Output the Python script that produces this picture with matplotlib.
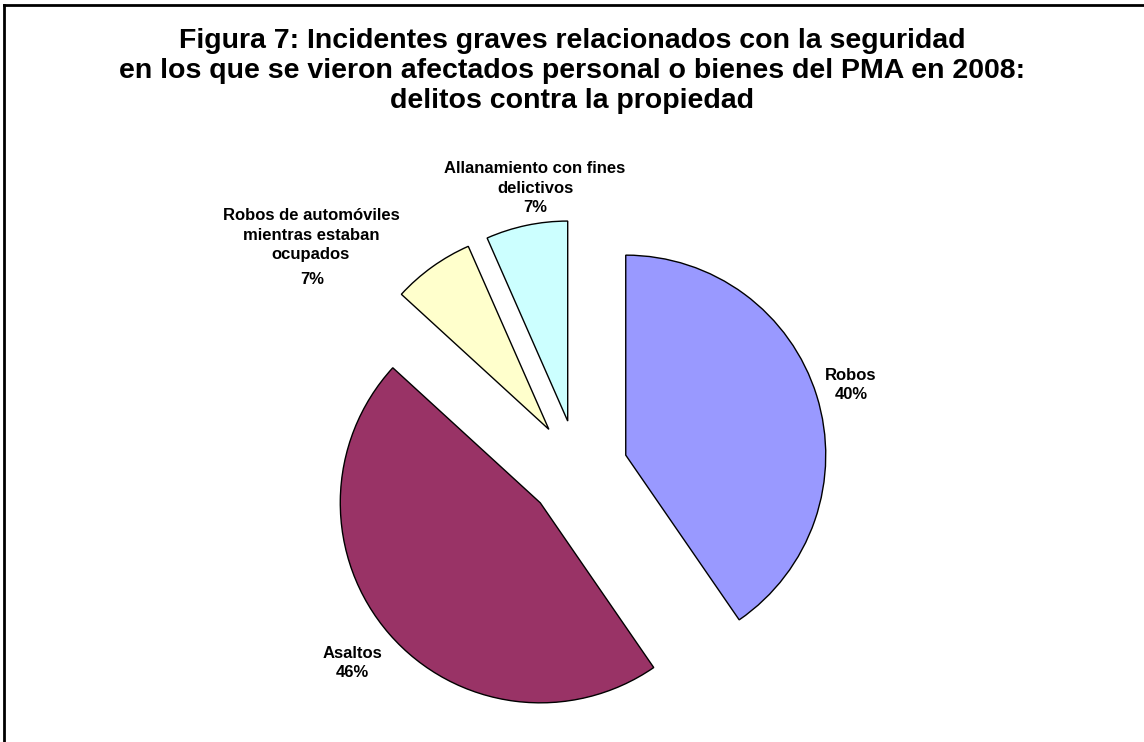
import matplotlib
matplotlib.use("Agg")
import matplotlib.pyplot as plt
from matplotlib.lines import Line2D

plt.rcParams["font.family"] = ["Liberation Sans", "DejaVu Sans"]

# Data
categories = ["Robos", "Asaltos",
              "Robos de automóviles\nmientras estaban\nocupados",
              "Allanamiento con fines\ndelictivos"]
values = [40.4, 46.4, 6.6, 6.6]
colors = ["#9999FF", "#993366", "#FFFFCC", "#CCFFFF"]
title_lines = ["Figura 7: Incidentes graves relacionados con la seguridad",
               "en los que se vieron afectados personal o bienes del PMA en 2008:",
               "delitos contra la propiedad"]

W, H = 1144, 742
CX, CY, R = 578, 470, 200  # pie centre / radius in pixels


def px(x, y):
    # pixel position (top-left origin) -> data units of the pie axes
    return (x - CX) / R, (CY - y) / R


fig = plt.figure(figsize=(W / 100, H / 100), dpi=100)
ax = fig.add_axes([0, 0, 1, 1])

ax.pie(values, colors=colors, startangle=90, counterclock=False,
       explode=[0.25] * len(values), radius=1.0,
       wedgeprops=dict(edgecolor="black", linewidth=1.0))
ax.set_xlim(-CX / R, (W - CX) / R)
ax.set_ylim((CY - H) / R, CY / R)
ax.axis("off")

pcts = ["%d%%" % round(v) for v in values]
lab = dict(fontsize=12, fontweight="bold", ha="center", va="center",
           linespacing=1.38)
ax.text(*px(851, 385), categories[0] + "\n" + pcts[0], **lab)
ax.text(*px(352, 663), categories[1] + "\n" + pcts[1], **lab)
ax.text(*px(311, 235), categories[2], **lab)
ax.text(*px(312, 279), pcts[2], **lab)
ax.text(*px(535, 188), categories[3] + "\n" + pcts[3], **lab)

# Title
for yb, line in zip([48, 78, 108], title_lines):
    fig.text(0.5, 1 - yb / H, line, fontsize=20.5, fontweight="bold",
             ha="center", va="baseline")

# Frame (top and left edges visible)
fig.add_artist(Line2D([4 / W, 4 / W], [0, 1 - 5 / H], color="black", lw=2,
                      transform=fig.transFigure))
fig.add_artist(Line2D([4 / W, 1], [1 - 5 / H, 1 - 5 / H], color="black", lw=2,
                      transform=fig.transFigure))

fig.savefig("out.png", dpi=100, facecolor="white")
plt.close()
